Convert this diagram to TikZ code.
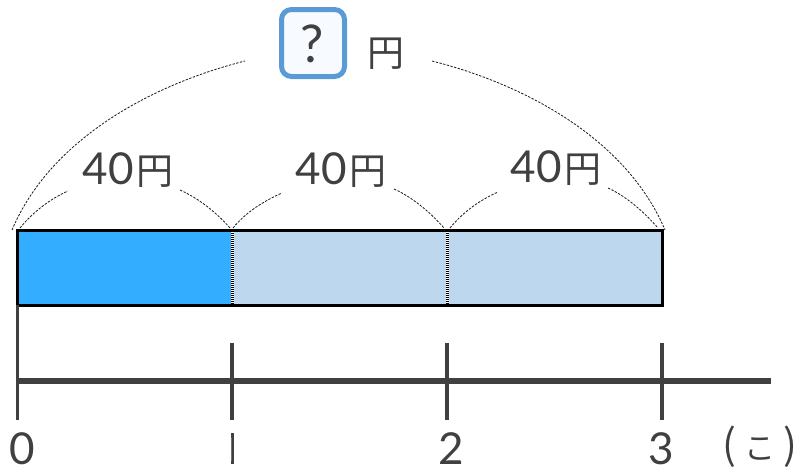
\documentclass[tikz,border=0pt]{standalone}
\usepackage{fontspec}
\setmainfont{Noto Sans CJK JP}
\newfontfamily\dg{Lato}
\definecolor{ink}{HTML}{404040}
\definecolor{boxblue}{HTML}{5B9BD5}
\definecolor{boxfill}{HTML}{F7FBFF}
\definecolor{strong}{HTML}{33ADFF}
\definecolor{pale}{HTML}{BDD7EE}
\newcommand{\digits}[1]{{\dg\fontsize{44}{44}\selectfont #1}}
\newcommand{\yen}{{\fontsize{37}{37}\selectfont 円}}
\tikzset{
  x=1pt,y=-1pt,
  lab/.style={inner sep=0pt,outer sep=0pt,text=ink,anchor=center},
  arcline/.style={draw=black!90,line width=0.8pt,dash pattern=on 2.4pt off 1.4pt},
  tick/.style={draw=ink,line width=3.2pt},
  axisline/.style={draw=ink,line width=6pt},
  barline/.style={draw=black,line width=3pt},
  partwhite/.style={draw=white,line width=3pt},
  partdash/.style={draw=black,line width=3pt,dash pattern=on 1pt off 1pt},
}
\begin{document}
\begin{tikzpicture}
\useasboundingbox (0,0) rectangle (798,471);
% coordinates
\coordinate (bl) at (17.5,305.3); \coordinate (tl) at (17.5,230.5);
\coordinate (m1t) at (232,230.5); \coordinate (m1b) at (232,305.3);
\coordinate (m2t) at (447,230.5); \coordinate (m2b) at (447,305.3);
\coordinate (tr) at (662.3,230.5); \coordinate (br) at (662.3,305.3);
\coordinate (ax0) at (16,381); \coordinate (axe) at (771,381);
% bar
\fill[strong] (tl) rectangle (m1b);
\fill[pale] (m1t) rectangle (br);
\draw[partwhite] (m1t) -- (m1b);
\draw[partdash] (m1t) -- (m1b);
\draw[partwhite] (m2t) -- (m2b);
\draw[partdash] (m2t) -- (m2b);
\draw[barline] (tl) rectangle (br);
% axis
\coordinate (t0a) at (17.5,305); \coordinate (t0b) at (17.5,420);
\coordinate (t1a) at (232,343); \coordinate (t1b) at (232,420);
\coordinate (t2a) at (447,343); \coordinate (t2b) at (447,420);
\coordinate (t3a) at (662,343); \coordinate (t3b) at (662,420);
\draw[tick] (t0a) -- (t0b);
\draw[tick] (t1a) -- (t1b);
\draw[tick] (t2a) -- (t2b);
\draw[tick] (t3a) -- (t3b);
\draw[axisline] (ax0) -- (axe);
% top box
\node[lab,draw=boxblue,fill=boxfill,line width=5pt,rounded corners=10pt,minimum width=63pt,minimum height=67pt] (q) at (313,43) {};
\node[lab] (qm) at (312.5,44) {{\dg\fontsize{52}{52}\selectfont ?}};
\node[lab] (yen) at (386,54) {\yen};
% labels
\node[lab] (a) at (128,170) {\digits{40}\kern3pt\yen};
\node[lab] (b) at (341,170) {\digits{40}\kern3pt\yen};
\node[lab] (c) at (556,168) {\digits{40}\kern3pt\yen};
\node[lab] (n0) at (22,449) {\digits{0}};
\begin{scope}
\clip (231,433) rectangle (233.7,465);
\node[lab] (n1) at (231.8,449) {\digits{1}};
\end{scope}
\node[lab] (n2) at (451,449) {\digits{2}};
\node[lab] (n3) at (661,449) {\digits{3}};
\node[lab] (unit) at (759.5,447) {{\fontsize{41}{41}\selectfont (\kern8pt{\fontsize{31}{31}\selectfont こ}\kern8pt)}};
% arcs
\coordinate (bA) at (12,230); \coordinate (bB) at (245,61);
\coordinate (bC) at (432,61); \coordinate (bD) at (665,230);
\draw[arcline] (bA) .. controls (50,140) and (150,85) .. (bB);
\draw[arcline] (bC) .. controls (527,85) and (627,140) .. (bD);
\coordinate (a1) at (20,228); \coordinate (a2) at (68,191);
\coordinate (a3) at (180,190); \coordinate (a4) at (230,228);
\coordinate (b1) at (233,228); \coordinate (b2) at (282,193);
\coordinate (b3) at (394,189); \coordinate (b4) at (444,228);
\coordinate (c1) at (450,228); \coordinate (c2) at (498,192);
\coordinate (c3) at (608,188); \coordinate (c4) at (658,228);
\draw[arcline] (a1) .. controls (33,212) and (50,199) .. (a2);
\draw[arcline] (a3) .. controls (198,198) and (216,212) .. (a4);
\draw[arcline] (b1) .. controls (246,212) and (264,201) .. (b2);
\draw[arcline] (b3) .. controls (412,197) and (430,212) .. (b4);
\draw[arcline] (c1) .. controls (463,212) and (480,200) .. (c2);
\draw[arcline] (c3) .. controls (626,196) and (644,212) .. (c4);
\end{tikzpicture}
\end{document}
